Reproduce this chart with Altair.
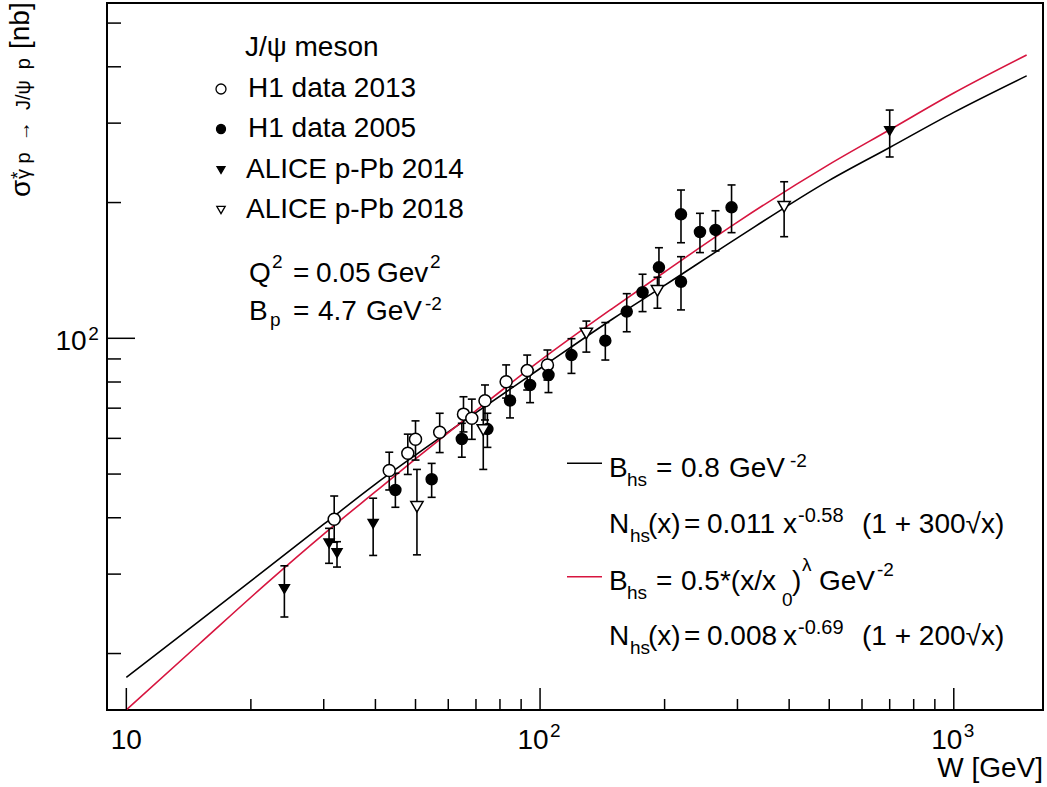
import altair as alt
import pandas as pd

# ---------------- data ----------------
# H1 data 2013 (open circles)
h13_W = [31.8, 43.2, 47.9, 50.0, 57.2, 65.3, 68.4, 73.6, 82.8, 93.1, 104.2]
h13_s = [39.7, 50.9, 55.6, 59.7, 61.9, 67.9, 66.5, 72.7, 80.1, 84.8, 87.3]
h13_hi = [44.7, 55.9, 61.3, 65.6, 68.2, 74.2, 73.3, 78.8, 87.3, 91.8, 94.2]
h13_lo = [35.3, 46.1, 49.9, 53.7, 55.8, 62.0, 59.7, 65.9, 73.7, 76.8, 80.8]

# H1 data 2005 (filled circles)
h05_W = [44.7, 54.7, 64.7, 74.6, 84.6, 94.6, 104.8, 119.1, 143.8, 162.0, 176.9,
         193.8, 219.1, 219.1, 243.5, 265.5, 290.3]
h05_s = [46.1, 48.7, 59.8, 62.9, 72.8, 78.8, 82.9, 91.8, 98.8, 114.6, 126.5,
         143.7, 133.5, 188.3, 172.1, 173.9, 195.2]
h05_hi = [50.2, 52.8, 64.8, 68.2, 78.1, 85.1, 89.5, 99.8, 108.4, 125.6, 138.7,
          158.8, 151.7, 213.2, 189.3, 191.8, 218.8]
h05_lo = [42.2, 44.4, 54.5, 57.3, 66.6, 72.0, 75.8, 83.6, 89.5, 103.4, 114.6,
          129.6, 115.6, 162.9, 154.9, 156.2, 171.5]

# ALICE p-Pb 2014 (filled triangles)
a14_W = [24.1, 30.9, 32.3, 39.5, 700.0]
a14_s = [27.8, 35.1, 33.4, 38.8, 288.2]
a14_hi = [31.3, 37.9, 35.4, 44.2, 320.7]
a14_lo = [24.1, 31.7, 31.1, 33.0, 252.4]

# ALICE p-Pb 2018 (open triangles)
a18_W = [50.4, 72.9, 129.4, 192.2, 389.0]
a18_s = [42.3, 62.6, 102.5, 127.4, 195.8]
a18_hi = [51.2, 73.0, 109.2, 136.6, 222.4]
a18_lo = [33.1, 51.2, 93.2, 116.6, 168.0]

# model curves
curve_W = [10, 15, 22, 30, 40, 50, 70, 100, 150, 200, 300, 500, 700, 1000, 1500]
black_s = [17.7, 23.6, 31.0, 38.7, 47.5, 55.1, 68.4, 85.7, 110.5, 131.0, 167.0,
           224.0, 265.0, 317.0, 382.0]
red_s = [15.0, 21.0, 28.8, 36.8, 45.7, 54.0, 69.1, 89.2, 116.7, 140.3, 181.0,
         243.0, 290.0, 350.0, 425.0]

# axis tick values
x_major = [10, 100, 1000]
x_minor = [20, 30, 40, 50, 60, 70, 80, 90, 200, 300, 400, 500, 600, 700, 800, 900]
y_major = [100]
y_minor = [20, 30, 40, 50, 60, 70, 80, 90, 200, 300, 400, 500]

# ---------------- layout ----------------
OX, OY = 107, 3
PW, PH = 936, 707
FONT = "Liberation Sans"
RED = "#d7153f"
NB = "\u00a0"
xs = alt.Scale(type="log", domain=[8.98, 1643], nice=False, zero=False)
ys = alt.Scale(type="log", domain=[14.99, 554], nice=False, zero=False)


def X(f):
    return alt.X(f, type="quantitative", scale=xs, axis=None)


def Y(f):
    return alt.Y(f, type="quantitative", scale=ys, axis=None)


layers = []

# curves
cb = pd.DataFrame({"W": curve_W, "s": black_s})
cr = pd.DataFrame({"W": curve_W, "s": red_s})
layers.append(alt.Chart(cb).mark_line(color="black", strokeWidth=1.6, clip=True,
                                      interpolate="monotone").encode(x=X("W"), y=Y("s")))
layers.append(alt.Chart(cr).mark_line(color=RED, strokeWidth=1.6, clip=True,
                                      interpolate="monotone").encode(x=X("W"), y=Y("s")))

# error bars
err = pd.DataFrame({
    "W": h13_W + h05_W + a14_W + a18_W,
    "lo": h13_lo + h05_lo + a14_lo + a18_lo,
    "hi": h13_hi + h05_hi + a14_hi + a18_hi,
})
layers.append(alt.Chart(err).mark_rule(color="black", strokeWidth=1.6).encode(
    x=X("W"), y=Y("lo"), y2="hi"))
for col in ["lo", "hi"]:
    layers.append(alt.Chart(err).mark_tick(color="black", orient="horizontal", size=8,
                                           thickness=1.6, opacity=1).encode(x=X("W"), y=Y(col)))


# markers
def pts(Ws, ss, shape, fill, size):
    df = pd.DataFrame({"W": Ws, "s": ss})
    return alt.Chart(df).mark_point(shape=shape, filled=True, fill=fill, stroke="black",
                                    strokeWidth=1.5, size=size, opacity=1).encode(
        x=X("W"), y=Y("s"))


layers.append(pts(h13_W, h13_s, "circle", "white", 144))
layers.append(pts(h05_W, h05_s, "circle", "black", 121))
layers.append(pts(a14_W, a14_s, "triangle-down", "black", 100))
layers.append(pts(a18_W, a18_s, "triangle-down", "white", 150))


# inward ticks
def xticks(vals, length):
    return alt.Chart(pd.DataFrame({"v": vals})).mark_rule(color="black", strokeWidth=1.5).encode(
        x=X("v"), y=alt.value(PH), y2=alt.value(PH - length))


def yticks(vals, length):
    return alt.Chart(pd.DataFrame({"v": vals})).mark_rule(color="black", strokeWidth=1.5).encode(
        y=Y("v"), x=alt.value(0), x2=alt.value(length))


layers += [xticks(x_major, 22), xticks(x_minor, 11), yticks(y_major, 28), yticks(y_minor, 14)]


# tick labels
def txt_data(df, **kw):
    return alt.Chart(df).mark_text(font=FONT, color="black", baseline="alphabetic", **kw)


layers.append(txt_data(pd.DataFrame({"v": [10], "t": ["10"]}), align="center", fontSize=28,
                       y=PH + 39.3).encode(x=X("v"), text="t:N"))
layers.append(txt_data(pd.DataFrame({"v": [100, 1000], "t": ["10", "10"]}), align="right",
                       fontSize=28, dx=8.5, y=PH + 39.3).encode(x=X("v"), text="t:N"))
layers.append(txt_data(pd.DataFrame({"v": [100, 1000], "t": ["2", "3"]}), align="left",
                       fontSize=19, dx=10, y=PH + 27).encode(x=X("v"), text="t:N"))
layers.append(txt_data(pd.DataFrame({"v": [100], "t": ["10"]}), align="right", fontSize=28,
                       dy=11.7, x=-20.3).encode(y=Y("v"), text="t:N"))
layers.append(txt_data(pd.DataFrame({"v": [100], "t": ["2"]}), align="left", fontSize=19,
                       dy=1.7, x=-18.7).encode(y=Y("v"), text="t:N"))

# free text segments: (text, left x, baseline y, size) in page pixels
segments = [
    ("J/ψ meson", 245, 56, 28),
    ("H1 data 2013", 248, 97, 28),
    ("H1 data 2005", 248, 137, 28),
    ("ALICE p-Pb 2014", 246, 178, 28),
    ("ALICE p-Pb 2018", 246, 218, 28),
    # Q^2 = 0.05 Gev^2
    ("Q", 249, 282, 28), ("2", 272, 268, 19),
    ("=", 293, 282, 28), ("0.05", 316, 282, 28), ("Gev", 377, 282, 28), ("2", 430, 268, 19),
    # B_p = 4.7 GeV^-2
    ("B", 249, 320, 28), ("p", 270, 326, 19),
    ("=", 293, 320, 28), ("4.7", 318, 320, 28), ("GeV", 366, 320, 28), ("-2", 425, 310, 19),
    # B_hs = 0.8 GeV^-2
    ("B", 609, 477, 28), ("hs", 627, 486, 19),
    ("=", 656, 477, 28), ("0.8", 681, 477, 28), ("GeV", 729, 477, 28), ("-2", 790, 467, 19),
    # N_hs(x) = 0.011 x^-0.58 (1 + 300 sqrt x)
    ("N", 609, 533, 28), ("hs", 630, 542, 19), ("(x)", 648, 533, 28), ("=", 684, 533, 28),
    ("0.011", 707, 533, 28), ("x", 783, 533, 28), ("-0.58", 798, 522, 20),
    ("(1 + 300√x)", 862, 533, 28),
    # B_hs = 0.5*(x/x_0)^lambda GeV^-2
    ("B", 609, 590, 28), ("hs", 627, 599, 19), ("=", 656, 590, 28), ("0.5*(x/x", 681, 590, 28),
    ("0", 782, 606, 19), (")", 792, 590, 28), ("λ", 802, 571, 19), ("GeV", 819, 590, 28),
    ("-2", 877, 576, 19),
    # N_hs(x) = 0.008 x^-0.69 (1 + 200 sqrt x)
    ("N", 609, 645, 28), ("hs", 630, 654, 19), ("(x)", 648, 645, 28), ("=", 684, 645, 28),
    ("0.008", 707, 645, 28), ("x", 783, 645, 28), ("-0.69", 798, 634, 20),
    ("(1 + 200√x)", 862, 645, 28),
]
for t, x, y, s in segments:
    layers.append(alt.Chart(pd.DataFrame({"t": [t]})).mark_text(
        font=FONT, fontSize=s, align="left", baseline="alphabetic", color="black",
        x=x - OX, y=y - OY).encode(text="t:N"))

# x title
layers.append(alt.Chart(pd.DataFrame({"t": ["W [GeV]"]})).mark_text(
    font=FONT, fontSize=28, align="right", baseline="alphabetic", color="black",
    x=1043 - OX, y=777 - OY).encode(text="t:N"))

# y title (rotated)
sub_txt = "γ" + NB + "p" + NB * 2 + "→" + NB * 2 + "J/ψ" + NB * 2 + "p"
ytitle = [("σ", 30, 197, 28), ("*", 24, 179, 19), (sub_txt, 30, 179, 20),
          ("[nb]", 29, 49, 28)]
for t, x, y, s in ytitle:
    layers.append(alt.Chart(pd.DataFrame({"t": [t]})).mark_text(
        font=FONT, fontSize=s, align="left", baseline="alphabetic", color="black", angle=270,
        x=x - OX, y=y - OY).encode(text="t:N"))

# legend markers
leg_y = [89, 129, 170, 210]
leg = [("circle", "white", 100), ("circle", "black", 81),
       ("triangle-down", "black", 64), ("triangle-down", "white", 70)]
for (shape, fill, size), yy in zip(leg, leg_y):
    layers.append(alt.Chart(pd.DataFrame({"t": [0]})).mark_point(
        shape=shape, filled=True, fill=fill, stroke="black", strokeWidth=1.3, size=size,
        opacity=1).encode(x=alt.value(221 - OX), y=alt.value(yy - OY)))

# legend line samples
layers.append(alt.Chart(pd.DataFrame({"t": [0]})).mark_rule(color="black", strokeWidth=1.6).encode(
    x=alt.value(567 - OX), x2=alt.value(602 - OX), y=alt.value(463.3 - OY)))
layers.append(alt.Chart(pd.DataFrame({"t": [0]})).mark_rule(color=RED, strokeWidth=1.6).encode(
    x=alt.value(567 - OX), x2=alt.value(602 - OX), y=alt.value(576.7 - OY)))

chart = alt.layer(*layers).properties(
    width=PW, height=PH,
    autosize=alt.AutoSizeParams(type="none"),
    padding={"left": OX, "top": OY, "right": 1047 - OX - PW, "bottom": 787 - OY - PH},
    background="white",
).configure_view(stroke="black", strokeWidth=2)

chart.save("out.html", embed_options={"renderer": "svg", "actions": False})
